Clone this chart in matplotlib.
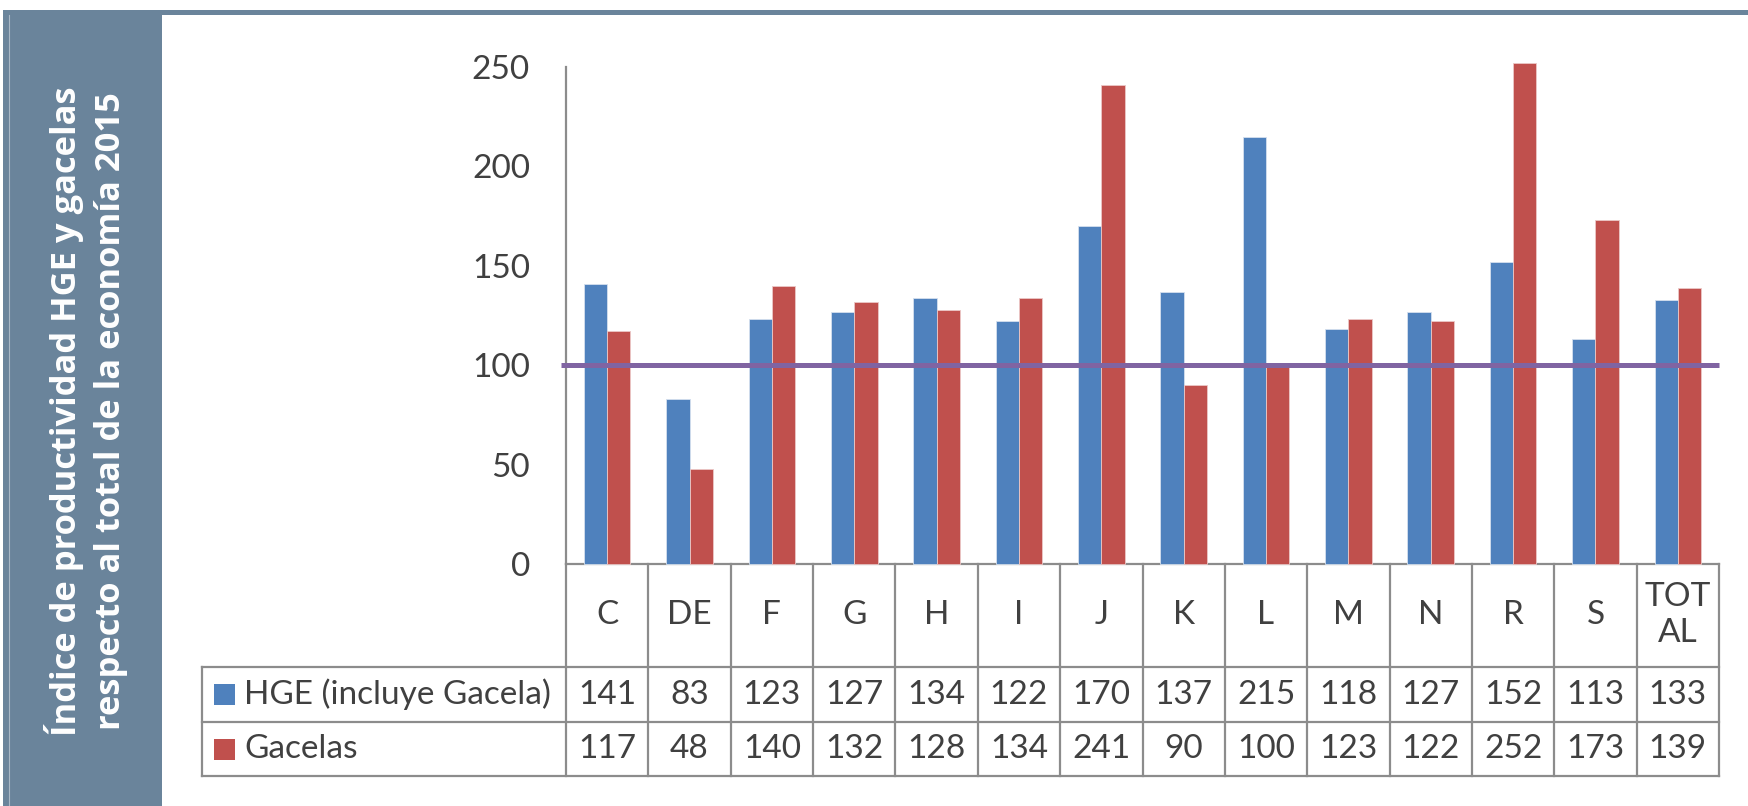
import matplotlib
matplotlib.use("Agg")
import matplotlib.pyplot as plt
from matplotlib.patches import Rectangle
from matplotlib.lines import Line2D
import numpy as np

# ---------------- data ----------------
categories = ["C", "DE", "F", "G", "H", "I", "J", "K", "L", "M", "N", "R", "S", "TOT\nAL"]
hge = [141, 83, 123, 127, 134, 122, 170, 137, 215, 118, 127, 152, 113, 133]
gacelas = [117, 48, 140, 132, 128, 134, 241, 90, 100, 123, 122, 252, 173, 139]
series_names = ["HGE (incluye Gacela)", "Gacelas"]
reference_level = 100
yticks = [0, 50, 100, 150, 200, 250]
title_lines = ["Índice de productividad HGE y gacelas",
               "respecto al total de la economía 2015"]

# ---------------- style ----------------
W, H = 1748, 806
DPI = 100
blue = "#4F81BD"
red = "#C0504D"
purple = "#8064A2"
panel = "#6A849B"
txt = "#404040"
grid = "#8C8C8C"
FONT = ["Lato", "DejaVu Sans"]
plt.rcParams["font.family"] = FONT

fig = plt.figure(figsize=(W / DPI, H / DPI), dpi=DPI)

def fx(px):
    return px / W

def fy(py):
    return 1 - py / H

# left slate panel and top rule
fig.patches.append(Rectangle((fx(3), 0), fx(159), fy(10), transform=fig.transFigure,
                             facecolor=panel, edgecolor="none", zorder=0))
fig.patches.append(Rectangle((fx(3), fy(15)), fx(1745), fy(10) - fy(15), transform=fig.transFigure,
                             facecolor=panel, edgecolor="none", zorder=0))
fig.add_artist(Line2D([fx(8.5), fx(8.5)], [0, fy(15)], transform=fig.transFigure,
                      color="#A9B8C6", lw=0.8))
fig.text(fx(86), fy(411), "\n".join(title_lines), rotation=90, ha="center", va="center",
         color="white", fontsize=24.8, fontweight="bold", linespacing=1.38,
         multialignment="center", family=["Open Sans", "DejaVu Sans"])

# axes
left, right = 566, 1719
top, bottom = 67, 564
ax = fig.add_axes([fx(left), fy(bottom), fx(right - left), fy(top) - fy(bottom)])
n = len(categories)
x = np.arange(n)
bw = 0.283
ax.bar(x - bw / 2, hge, width=bw, color=blue, edgecolor="#D5E0EE", linewidth=0.6,
       clip_on=False, zorder=2)
ax.bar(x + bw / 2, gacelas, width=bw, color=red, edgecolor="#EBC8C7", linewidth=0.6,
       clip_on=False, zorder=2)
ax.plot([-0.56, n - 0.5], [reference_level, reference_level], color=purple, lw=3.6,
        solid_capstyle="butt", clip_on=False, zorder=3)

ax.set_xlim(-0.5, n - 0.5)
ax.set_ylim(0, 250)
ax.set_yticks(yticks)
ax.set_yticklabels([str(v) for v in yticks])
ax.tick_params(axis="y", length=0, pad=26, labelsize=24, labelcolor=txt)
ax.set_xticks([])
for s in ["top", "right", "bottom"]:
    ax.spines[s].set_visible(False)
ax.spines["left"].set_color(grid)
ax.spines["left"].set_linewidth(1.6)

# data table under the axes
trans = ax.get_xaxis_transform()
hpx = bottom - top

def ay(py):
    return (bottom - py) / hpx

row_cat_bottom = 667
row1_bottom = 722
row2_bottom = 776
leg_left_px = 202
leg_left = -0.5 - (left - leg_left_px) / ((right - left) / n)
lkw = dict(color=grid, lw=1.6, transform=trans, clip_on=False, zorder=1)

# horizontal lines
ax.plot([-0.5, n - 0.5], [0, 0], **lkw)
ax.plot([leg_left, n - 0.5], [ay(row_cat_bottom)] * 2, **lkw)
ax.plot([leg_left, n - 0.5], [ay(row1_bottom)] * 2, **lkw)
ax.plot([leg_left, n - 0.5], [ay(row2_bottom)] * 2, **lkw)
# vertical lines
ax.plot([leg_left, leg_left], [ay(row_cat_bottom), ay(row2_bottom)], **lkw)
for i in range(n + 1):
    ax.plot([i - 0.5, i - 0.5], [0, ay(row2_bottom)], **lkw)

cy = ay((bottom + row_cat_bottom) / 2)
r1 = ay((row_cat_bottom + row1_bottom) / 2)
r2 = ay((row1_bottom + row2_bottom) / 2)
for i, c in enumerate(categories):
    ax.text(i, cy, c, transform=trans, ha="center", va="center", fontsize=24, color=txt,
            linespacing=1.25)
    ax.text(i, r1, str(hge[i]), transform=trans, ha="center", va="center", fontsize=24, color=txt)
    ax.text(i, r2, str(gacelas[i]), transform=trans, ha="center", va="center", fontsize=24, color=txt)

# legend keys in the table
for yy, col, name in [(r1, blue, series_names[0]), (r2, red, series_names[1])]:
    yc = bottom - yy * hpx
    fig.patches.append(Rectangle((fx(214), fy(yc + 10.5)), fx(21), fy(yc - 10.5) - fy(yc + 10.5),
                                 transform=fig.transFigure, facecolor=col, edgecolor="none"))
    fig.text(fx(244), fy(yc), name, ha="left", va="center", fontsize=24, color=txt)

fig.savefig("out.png", dpi=DPI, facecolor="white")
